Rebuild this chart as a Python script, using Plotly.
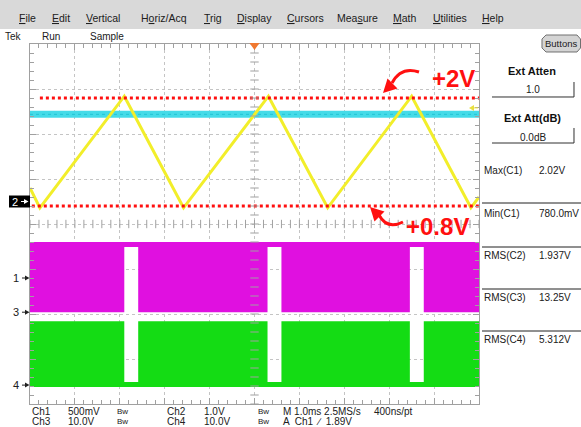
import numpy as np
import plotly.graph_objects as go

# ---------------- data ----------------
time_ms = [-5.0, -4.78, -2.90, -1.58, 0.31, 1.63, 3.50, 4.82, 5.0]
ch1_volts = [1.00, 0.78, 2.02, 0.78, 2.02, 0.78, 2.02, 0.78, 0.90]
ch2_time_ms = [-5.0, 5.0]
ch2_volts = [1.937, 1.937]
gap_start_ms = [-2.90, 0.29, 3.46]
gap_end_ms = [-2.59, 0.60, 3.77]
ch3_high_v, ch3_low_v, ch3_hold_v = 15.6, 0.0, 14.5
ch4_high_v, ch4_low_v, ch4_hold_v = 14.2, -0.4, 0.7
cursor_levels_v = [2.0, 0.8]
cursor_start_ms = [-4.78, -4.96]
cursor_labels = ["+2V", "+0.8V"]
trigger_level_v = 1.89
volts_per_div = {"Ch1": 0.5, "Ch2": 1.0, "Ch3": 10.0, "Ch4": 10.0}
offset_div = {"Ch1": -1.2, "Ch2": 0.5, "Ch3": -1.96, "Ch4": -3.58}
menu_items = ["<u>F</u>ile", "<u>E</u>dit", "<u>V</u>ertical", "H<u>o</u>riz/Acq", "<u>T</u>rig",
              "<u>D</u>isplay", "<u>C</u>ursors", "Mea<u>s</u>ure", "<u>M</u>ath", "<u>U</u>tilities", "<u>H</u>elp"]
menu_x_px = [17, 50, 84, 139, 202, 235, 285, 335, 391, 431, 480]
meas_names = ["Max(C1)", "Min(C1)", "RMS(C2)", "RMS(C3)", "RMS(C4)"]
meas_values = ["2.02V", "780.0mV", "1.937V", "13.25V", "5.312V"]
meas_y_px = [170, 213, 255, 297, 339]
sep_y_px = [203, 247, 289, 331]

# ---------------- geometry helpers ----------------
W, H = 581, 427
PL, PR, PT, PB = 30, 479, 44, 404


def px(x):
    return (x - PL) / (PR - PL)


def py(y):
    return (PB - y) / (PB - PT)


def to_div(ch, v):
    return offset_div[ch] + v / volts_per_div[ch]


def ppath(points, close=True):
    s = "M " + " L ".join(f"{px(a):.5f},{py(b):.5f}" for a, b in points)
    return s + (" Z" if close else "")


def step_edge(out_v, in_v):
    xs, ys = [-5.0], [out_v]
    for gs, ge in zip(gap_start_ms, gap_end_ms):
        xs += [gs, gs, ge, ge]
        ys += [out_v, in_v, in_v, out_v]
    xs.append(5.0)
    ys.append(out_v)
    return xs, ys


fig = go.Figure()

# ---- Ch3 (magenta) band ----
tx, ty = step_edge(ch3_high_v, ch3_high_v)
bx, by = step_edge(ch3_low_v, ch3_hold_v)
poly_x = tx + bx[::-1]
poly_y = [to_div("Ch3", v) for v in ty + by[::-1]]
fig.add_trace(go.Scatter(x=poly_x, y=poly_y, fill="toself", fillcolor="#e010e0",
                         mode="lines", line=dict(width=0), hoverinfo="skip"))

# ---- Ch4 (green) band ----
tx, ty = step_edge(ch4_high_v, ch4_hold_v)
bx, by = step_edge(ch4_low_v, ch4_low_v)
poly_x = tx + bx[::-1]
poly_y = [to_div("Ch4", v) for v in ty + by[::-1]]
fig.add_trace(go.Scatter(x=poly_x, y=poly_y, fill="toself", fillcolor="#14dc14",
                         mode="lines", line=dict(width=0), hoverinfo="skip"))

# ---- Ch2 (cyan) ----
fig.add_trace(go.Scatter(x=ch2_time_ms, y=[to_div("Ch2", v) for v in ch2_volts],
                         mode="lines", line=dict(color="#44dbe8", width=7)))
fig.add_trace(go.Scatter(x=ch2_time_ms, y=[to_div("Ch2", v) for v in ch2_volts],
                         mode="lines", line=dict(color="#22c4d4", width=1, dash="dot")))

# ---- Ch1 (yellow) ----
fig.add_trace(go.Scatter(x=time_ms, y=[to_div("Ch1", v) for v in ch1_volts],
                         mode="lines", line=dict(color="#f2ee2a", width=3)))

# ---- red cursor lines ----
for lv, xs in zip(cursor_levels_v, cursor_start_ms):
    yd = to_div("Ch1", lv)
    fig.add_trace(go.Scatter(x=[xs, 5.0], y=[yd, yd], mode="lines",
                             line=dict(color="#ff1010", width=3, dash="dot")))

# ---- centre-cross ticks ----
xt = np.arange(-5, 5.001, 0.2)
yt = np.arange(-4, 4.001, 0.2)
fig.add_trace(go.Scatter(x=xt, y=np.zeros_like(xt), mode="markers",
                         marker=dict(symbol="line-ns", size=6, line=dict(color="#a0a0a0", width=1))))
fig.add_trace(go.Scatter(x=np.zeros_like(yt), y=yt, mode="markers",
                         marker=dict(symbol="line-ew", size=6, line=dict(color="#a0a0a0", width=1))))

shapes = []
annotations = []
SANS = "Liberation Sans"

# menu bar
shapes.append(dict(type="rect", xref="paper", yref="paper", x0=px(0), x1=px(W), y0=py(29), y1=py(0),
                   fillcolor="#d9d9d9", line=dict(width=0), layer="above"))
for label, xm in zip(menu_items, menu_x_px):
    annotations.append(dict(xref="paper", yref="paper", x=px(xm), y=py(18), text=label, showarrow=False,
                            xanchor="left", yanchor="middle",
                            font=dict(family=SANS, size=10.5, color="#202020")))
for label, xm in zip(["Tek", "Run", "Sample"], [3, 40, 88]):
    annotations.append(dict(xref="paper", yref="paper", x=px(xm), y=py(36), text=label, showarrow=False,
                            xanchor="left", yanchor="middle",
                            font=dict(family=SANS, size=10, color="#202020")))

# Buttons pill
shapes.append(dict(type="path", xref="paper", yref="paper",
                   path=ppath([(546, 35), (577, 35), (580.5, 39), (580.5, 48), (577, 52), (546, 52), (542, 48), (542, 39)]),
                   fillcolor="#d4d4d4", line=dict(color="#707070", width=1)))
annotations.append(dict(xref="paper", yref="paper", x=px(561), y=py(43), text="Buttons", showarrow=False,
                        xanchor="center", yanchor="middle",
                        font=dict(family=SANS, size=9.5, color="#202020")))

# Ext atten boxes
for title, val, ty_, vy, ybot, ytop in [("Ext Atten", "1.0", 71, 89, 97, 82),
                                        ("Ext Att(dB)", "0.0dB", 118, 137, 143, 128)]:
    annotations.append(dict(xref="paper", yref="paper", x=px(532), y=py(ty_), text="<b>" + title + "</b>",
                            showarrow=False, xanchor="center", yanchor="middle",
                            font=dict(family=SANS, size=11, color="#101010")))
    annotations.append(dict(xref="paper", yref="paper", x=px(533), y=py(vy), text=val,
                            showarrow=False, xanchor="center", yanchor="middle",
                            font=dict(family=SANS, size=10, color="#202020")))
    shapes.append(dict(type="path", xref="paper", yref="paper",
                       path=ppath([(492, ybot), (574, ybot), (574, ytop)], close=False),
                       line=dict(color="#303030", width=1)))

# measurements
for name, val, ym in zip(meas_names, meas_values, meas_y_px):
    annotations.append(dict(xref="paper", yref="paper", x=px(482), y=py(ym), text=name, showarrow=False,
                            xanchor="left", yanchor="middle",
                            font=dict(family=SANS, size=10, color="#202020")))
    annotations.append(dict(xref="paper", yref="paper", x=px(537), y=py(ym), text=val, showarrow=False,
                            xanchor="left", yanchor="middle",
                            font=dict(family=SANS, size=10, color="#202020")))
for ys in sep_y_px:
    shapes.append(dict(type="line", xref="paper", yref="paper", x0=px(482), x1=px(581), y0=py(ys), y1=py(ys),
                       line=dict(color="#202020", width=1)))

# bottom status text
row1 = [("Ch1", 30), ("500mV", 66), ("Bw", 115), ("Ch2", 165), ("1.0V", 202), ("Bw", 256),
        ("M 1.0ms 2.5MS/s", 281), ("400ns/pt", 372)]
row2 = [("Ch3", 30), ("10.0V", 66), ("Bw", 115), ("Ch4", 165), ("10.0V", 202), ("Bw", 256),
        ("A  Ch1  \u2215  1.89V", 281)]
for row, yr in [(row1, 411), (row2, 421.5)]:
    for txt, xr in row:
        annotations.append(dict(xref="paper", yref="paper", x=px(xr), y=py(yr), text=txt, showarrow=False,
                                xanchor="left", yanchor="middle",
                                font=dict(family=SANS, size=8 if txt == "Bw" else 10, color="#202020")))

# channel ground markers on left
for ch, label in [("Ch1", "1"), ("Ch3", "3"), ("Ch4", "4")]:
    yd = to_div(ch, 0.0)
    ypx = 224 - yd * 45
    annotations.append(dict(xref="paper", yref="y", x=px(21), y=yd, text=label, showarrow=False,
                            xanchor="right", yanchor="middle",
                            font=dict(family=SANS, size=11, color="#202020")))
    shapes.append(dict(type="path", xref="paper", yref="paper",
                       path=ppath([(22, ypx), (26, ypx)], close=False), line=dict(color="#202020", width=1)))
    shapes.append(dict(type="path", xref="paper", yref="paper",
                       path=ppath([(25, ypx - 2.5), (29.5, ypx), (25, ypx + 2.5)]),
                       fillcolor="#202020", line=dict(width=0)))
# Ch2 marker (inverse)
yd2 = to_div("Ch2", 0.0)
ypx2 = 224 - yd2 * 45
shapes.append(dict(type="rect", xref="paper", yref="paper", x0=px(9), x1=px(30), y0=py(ypx2 + 6), y1=py(ypx2 - 6),
                   fillcolor="#000000", line=dict(width=0)))
annotations.append(dict(xref="paper", yref="y", x=px(20), y=yd2, text="2", showarrow=False,
                        xanchor="right", yanchor="middle",
                        font=dict(family=SANS, size=11, color="#ffffff")))
shapes.append(dict(type="path", xref="paper", yref="paper",
                   path=ppath([(21, ypx2), (25, ypx2)], close=False), line=dict(color="#ffffff", width=1)))
shapes.append(dict(type="path", xref="paper", yref="paper",
                   path=ppath([(24, ypx2 - 2.5), (28.5, ypx2), (24, ypx2 + 2.5)]),
                   fillcolor="#ffffff", line=dict(width=0)))

# trigger position marker (top centre) and trigger level arrow (right edge)
shapes.append(dict(type="path", xref="paper", yref="paper",
                   path=ppath([(249.5, 43), (259.5, 43), (254.5, 50)]),
                   fillcolor="#f07830", line=dict(width=0)))
tly = 224 - to_div("Ch1", trigger_level_v) * 45
shapes.append(dict(type="path", xref="paper", yref="paper",
                   path=ppath([(469, tly), (474, tly - 3), (474, tly + 3)]),
                   fillcolor="#e8e040", line=dict(width=0)))
shapes.append(dict(type="path", xref="paper", yref="paper",
                   path=ppath([(473, tly), (478, tly)], close=False), line=dict(color="#e8e040", width=1)))

# red labels and curved arrows
annotations.append(dict(xref="paper", yref="paper", x=px(430), y=py(78), text="<b>" + cursor_labels[0] + "</b>",
                        showarrow=False, xanchor="left", yanchor="middle",
                        font=dict(family=SANS, size=24, color="#ff1010")))
annotations.append(dict(xref="paper", yref="paper", x=px(404), y=py(226), text="<b>" + cursor_labels[1] + "</b>",
                        showarrow=False, xanchor="left", yanchor="middle",
                        font=dict(family=SANS, size=24, color="#ff1010")))
shapes.append(dict(type="path", xref="paper", yref="paper",
                   path=f"M {px(419)},{py(72)} Q {px(401)},{py(66)} {px(392)},{py(83)}",
                   line=dict(color="#ff1010", width=3)))
shapes.append(dict(type="path", xref="paper", yref="paper",
                   path=ppath([(383, 93), (387.5, 78.5), (397.5, 88.5)]),
                   fillcolor="#ff1010", line=dict(width=0)))
shapes.append(dict(type="path", xref="paper", yref="paper",
                   path=f"M {px(379)},{py(215)} Q {px(387)},{py(230)} {px(403)},{py(222)}",
                   line=dict(color="#ff1010", width=3)))
shapes.append(dict(type="path", xref="paper", yref="paper",
                   path=ppath([(370, 207), (384.5, 211.5), (374.5, 221.5)]),
                   fillcolor="#ff1010", line=dict(width=0)))

axis_common = dict(showticklabels=False, zeroline=False, showgrid=True, gridcolor="#c4c4c4",
                   griddash="dot", gridwidth=1, showline=True, linecolor="#a0a0a0", linewidth=1,
                   mirror="allticks", ticks="inside", ticklen=6, tickcolor="#a0a0a0", fixedrange=True,
                   minor=dict(ticks="inside", ticklen=4, tickcolor="#a0a0a0", showgrid=False))

fig.update_layout(
    width=W, height=H, margin=dict(l=PL, r=W - PR, t=PT, b=H - PB),
    paper_bgcolor="#ffffff", plot_bgcolor="#ffffff", showlegend=False,
    xaxis=dict(range=[-5, 5], dtick=1, tick0=0, **axis_common),
    yaxis=dict(range=[-4, 4], dtick=1, tick0=0, **axis_common),
    shapes=shapes, annotations=annotations,
)
fig.update_xaxes(minor_dtick=0.2)
fig.update_yaxes(minor_dtick=0.2)

fig.write_html("out.html", config={"displayModeBar": False},
               post_script="document.body.style.margin='0';document.body.style.overflow='hidden';")
